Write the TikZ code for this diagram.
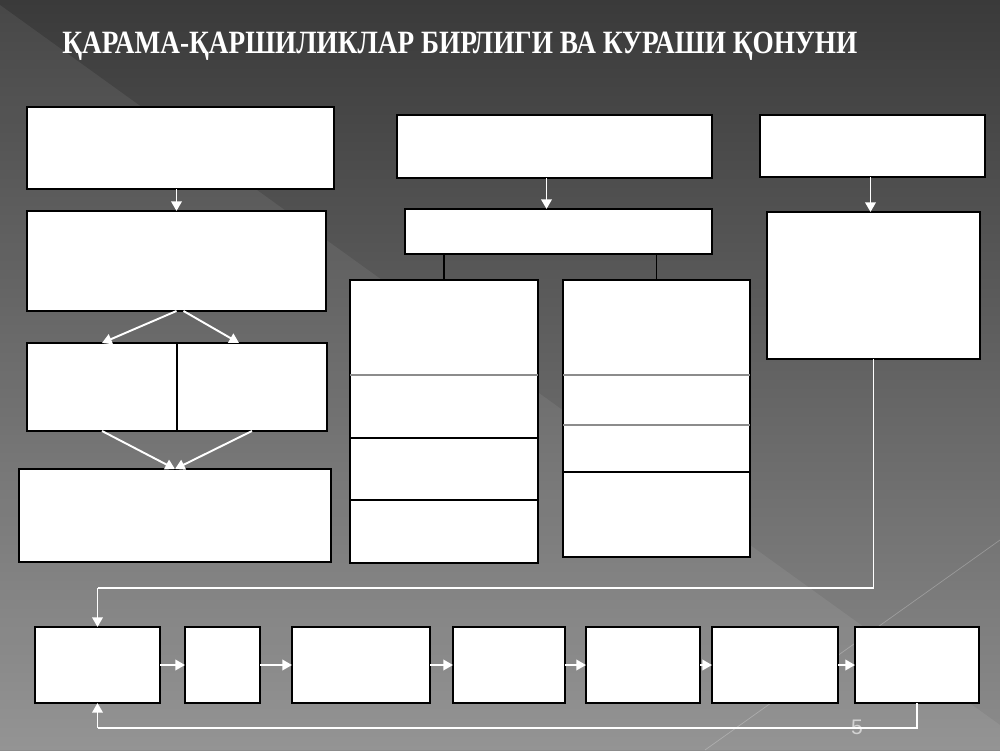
\documentclass[tikz,border=0pt]{standalone}
\usepackage{fontspec}
\setmainfont{Liberation Serif}
\newfontfamily\pagefont{Liberation Sans}
\usetikzlibrary{arrows.meta,fit}

\definecolor{bgtop}{RGB}{58,58,58}
\definecolor{bgbot}{RGB}{140,140,140}
\definecolor{pagegray}{RGB}{210,210,210}
\definecolor{cellgray}{RGB}{140,140,140}

\tikzset{
    box/.style={draw=black, fill=white, line width=0.8pt, inner sep=0pt, outer sep=0pt},
    flow/.style={draw=white, line width=1.1pt, -{Triangle[length=5.5pt,width=6pt]}},
    wire/.style={draw=white, line width=1.1pt},
    link/.style={draw=black, line width=0.9pt},
    split/.style={draw=cellgray, line width=0.9pt},
}

\begin{document}
\begin{tikzpicture}[x=0.2mm, y=-0.2mm]
            % Background
            \useasboundingbox (0,0) rectangle (1000,750);
            \shade[top color=bgtop, bottom color=bgbot] (0,0) rectangle (1000,750);
            \fill[white, opacity=0.07] (0,5) -- (1000,725) -- (1000,750) -- (0,750) -- cycle;
            \draw[white, opacity=0.25, line width=0.4pt] (705,750) -- (1000,540);
            % Title
            \node[anchor=base west, inner sep=0pt, text=white,
                  font=\bfseries\fontsize{18.5}{20}\selectfont] (title) at (62,53)
                  {\resizebox{159mm}{\height}{ҚАРАМА-ҚАРШИЛИКЛАР БИРЛИГИ ВА КУРАШИ ҚОНУНИ}};
            % Left column
            \node[box, fit={(27,107) (334,189)}] (L1) {};
            \node[box, fit={(27,211) (326,311)}] (L2) {};
            \node[box, fit={(27,343) (177,431)}] (L3a) {};
            \node[box, fit={(177,343) (327,431)}] (L3b) {};
            \node[box, fit={(19,469) (331,562)}] (L4) {};
            % Middle column
            \node[box, fit={(397,115) (712,178)}] (M1) {};
            \node[box, fit={(405,209) (712,254)}] (M2) {};
            \foreach \name/\ya/\yb in {MA1/280/375, MA2/375/438, MA3/438/500, MA4/500/563} {
                \node[box, fit={(350,\ya) (538,\yb)}] (\name) {};
            }
            \foreach \name/\ya/\yb in {MB1/280/375, MB2/375/425, MB3/425/472, MB4/472/557} {
                \node[box, fit={(563,\ya) (750,\yb)}] (\name) {};
            }
            \draw[split] (MA1.south west) -- (MA1.south east);
            \draw[split] (MB1.south west) -- (MB1.south east);
            \draw[split] (MB2.south west) -- (MB2.south east);
            % Right column
            \node[box, fit={(760,115) (985,177)}] (R1) {};
            \node[box, fit={(767,212) (980,359)}] (R2) {};
            % Bottom row
            \foreach \name/\xa/\xb in {B1/35/160,B2/185/260,B3/292/430,B4/453/565,B5/586/700,B6/712/838,B7/855/979} {
                \node[box, fit={(\xa,627) (\xb,703)}] (\name) {};
            }
            \coordinate (loopTop) at (0,588);
            \coordinate (loopBot) at (0,728);
            % Page number
            \node[font=\pagefont\fontsize{12}{12}\selectfont, text=pagegray, inner sep=0pt] (page) at (857,727) {5};
            % Arrows
            \draw[flow] (L2.north |- L1.south) -- (L2.north);
            \draw[flow] (L2.south) -- (L3a.north);
            \draw[flow] ([xshift=1.4mm]L2.south) -- ([xshift=-2.6mm]L3b.north);
            \draw[flow] (L3a.south) -- (L4.north);
            \draw[flow] (L3b.south) -- (L4.north);
            \draw[flow] ([xshift=-1.6mm]M1.south) -- ([xshift=-1.6mm]M1.south |- M2.north);
            \draw[link] (MA1.north |- M2.south) -- (MA1.north);
            \draw[link] (MB1.north |- M2.south) -- (MB1.north);
            \draw[flow] ([xshift=-0.6mm]R2.north |- R1.south) -- ([xshift=-0.6mm]R2.north);
            \draw[wire] (R2.south) -- (R2.south |- loopTop) -- (B1.north |- loopTop);
            \draw[flow] (B1.north |- loopTop) -- (B1.north);
            \foreach \a/\b in {B1/B2,B2/B3,B3/B4,B4/B5,B5/B6,B6/B7} {
                \draw[flow] (\a) -- (\b);
            }
            \draw[wire] (B7.south) -- (B7.south |- loopBot) -- (B1.south |- loopBot);
            \draw[flow] (B1.south |- loopBot) -- (B1.south);
        \end{tikzpicture}
\end{document}
